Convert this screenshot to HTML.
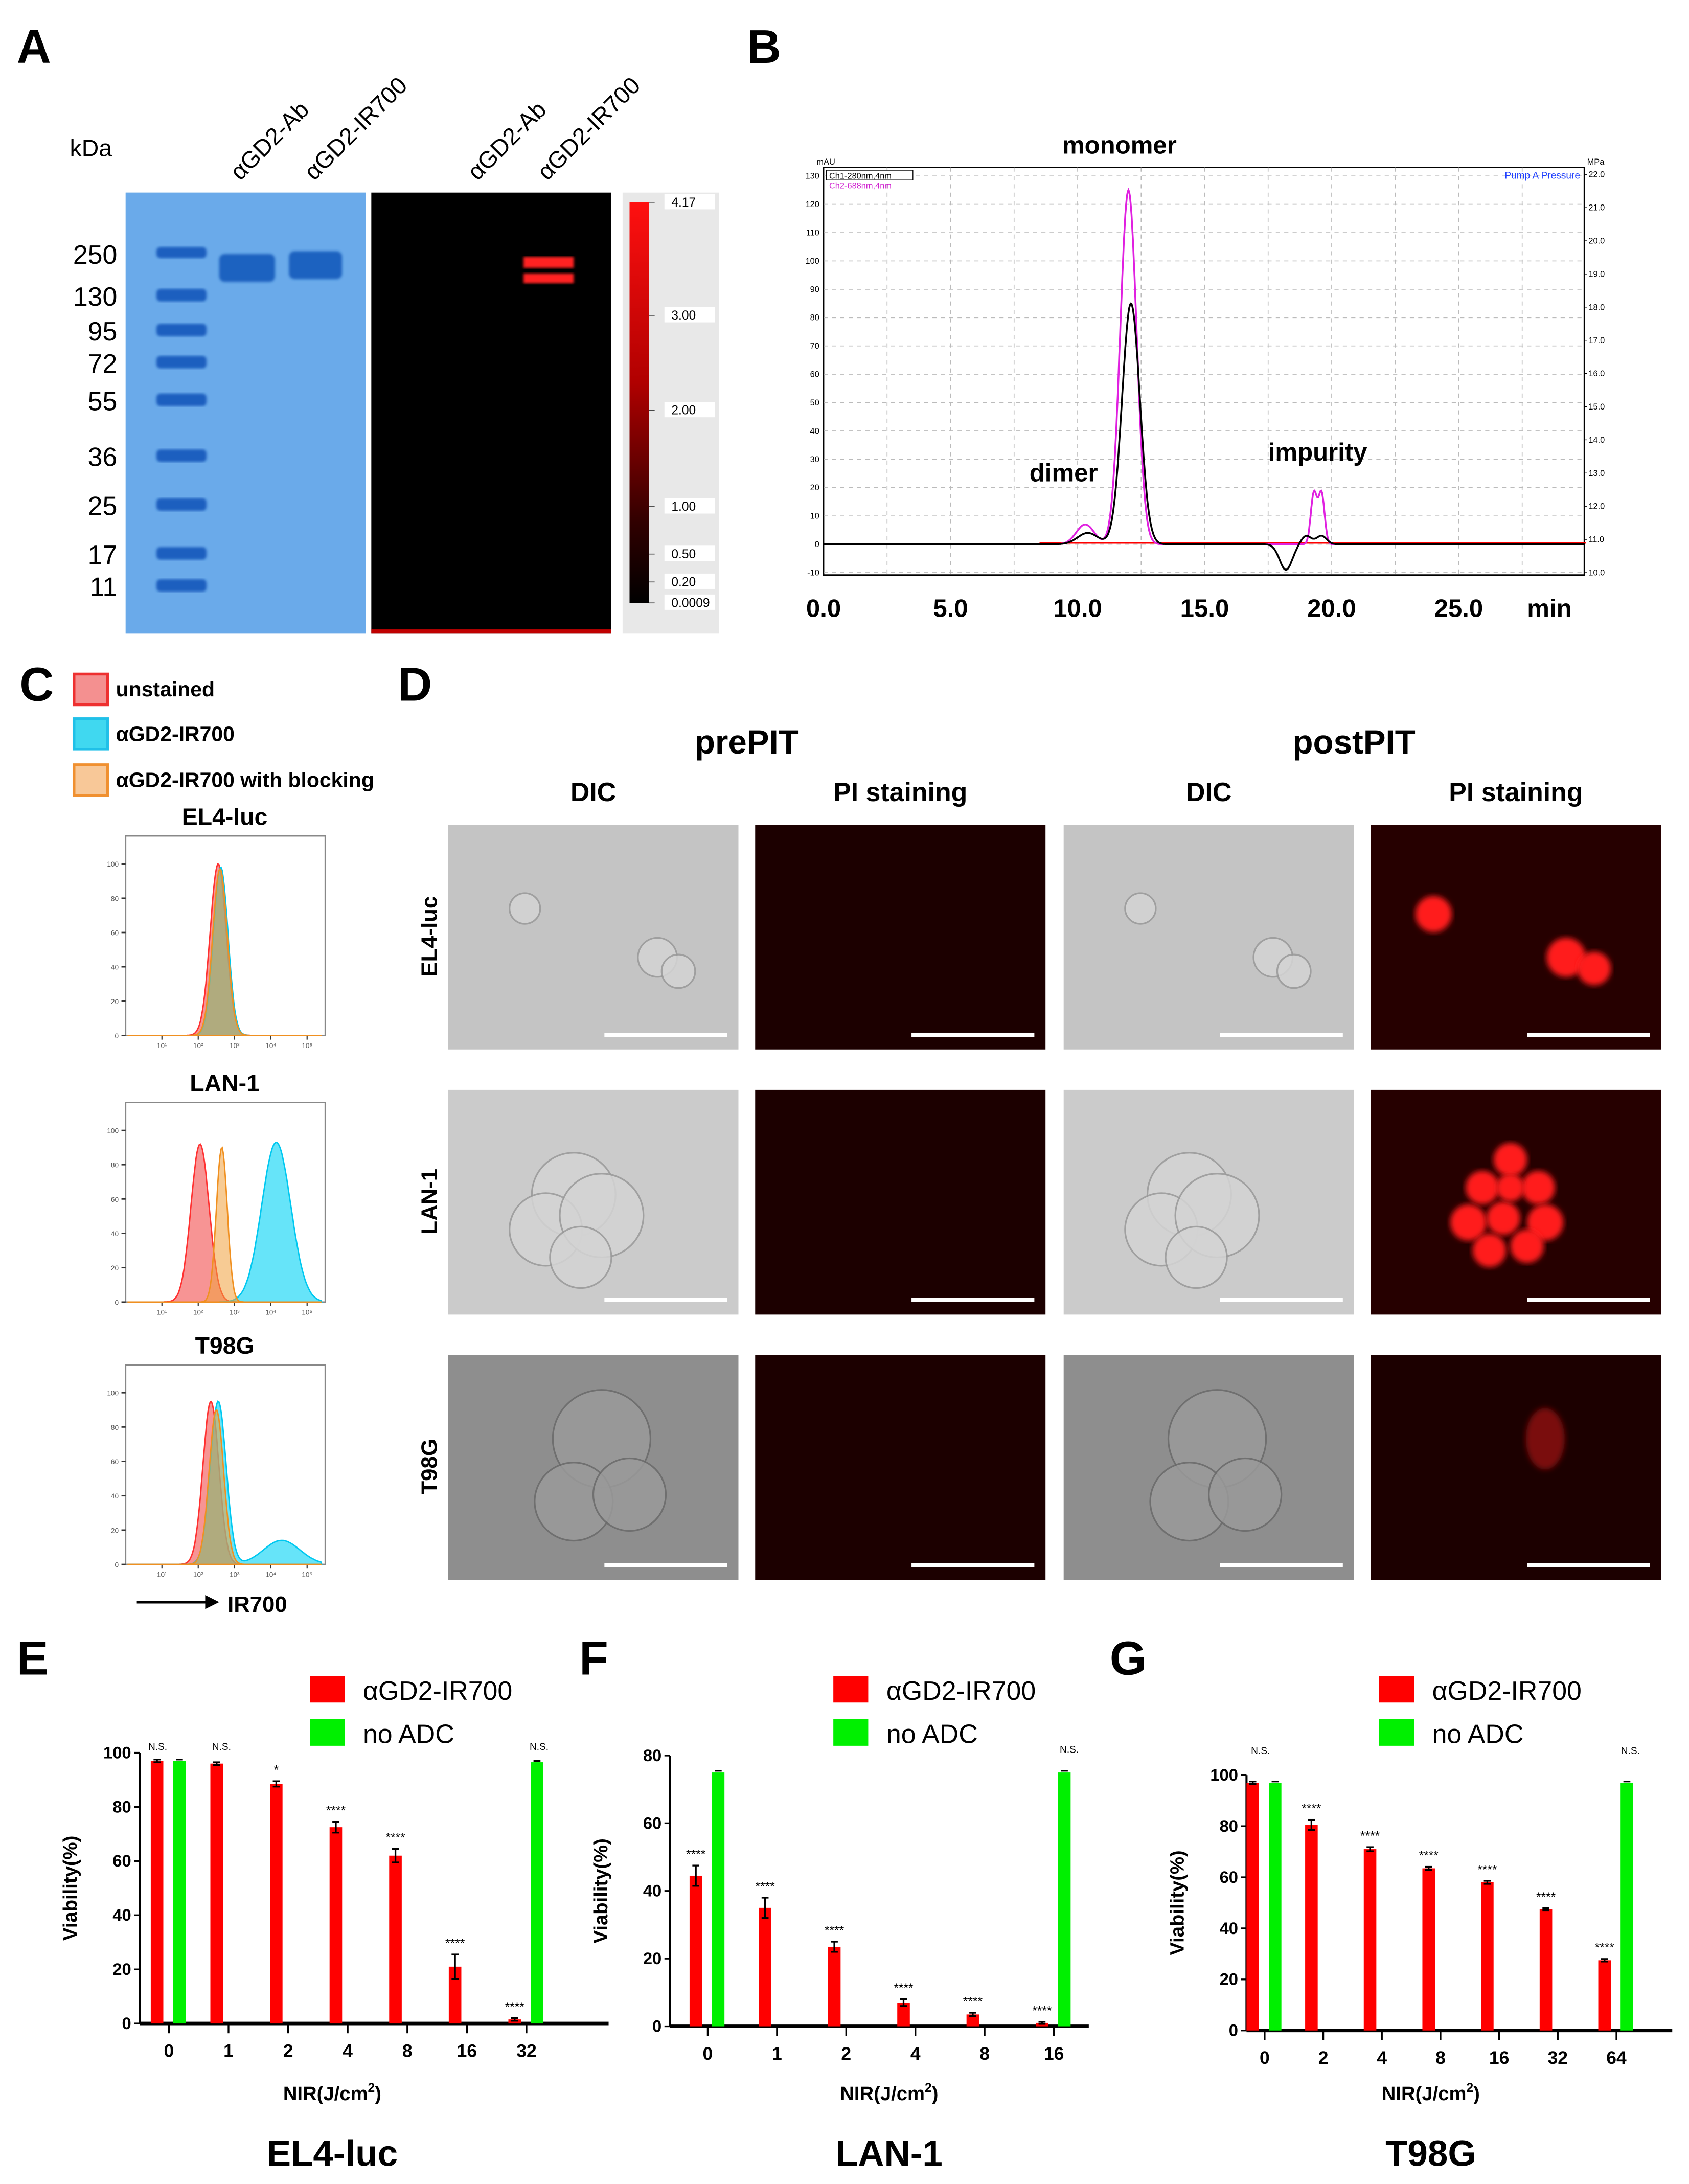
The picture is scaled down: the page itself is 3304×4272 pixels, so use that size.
<!DOCTYPE html>
<html><head><meta charset="utf-8"><style>
html,body{margin:0;padding:0;background:#fff}
svg{display:block}
text{font-family:"Liberation Sans",sans-serif}
</style></head><body>
<svg id="fig" width="3304" height="4272" viewBox="0 0 1210 1565" preserveAspectRatio="none" xmlns="http://www.w3.org/2000/svg">
<defs>
<linearGradient id="cbar" x1="0" y1="0" x2="0" y2="1"><stop offset="0" stop-color="#ff1010"/><stop offset="0.45" stop-color="#b00000"/><stop offset="0.8" stop-color="#300000"/><stop offset="1" stop-color="#000"/></linearGradient>
<filter id="blur2"><feGaussianBlur stdDeviation="2"/></filter>
<filter id="blur1"><feGaussianBlur stdDeviation="1"/></filter>
<radialGradient id="cell" cx="0.4" cy="0.4" r="0.6"><stop offset="0" stop-color="#ddd"/><stop offset="0.8" stop-color="#aaa"/><stop offset="1" stop-color="#777"/></radialGradient>
</defs>
<g id="root"></g>
</svg>
<script>
// ---------- chart data ----------
const eCats=["0","1","2","4","8","16","32"];
const eRed=[97,96,88.5,72.5,62,21,1.5];
const eRedErr=[0.5,0.5,1,2,2.5,4.5,0.5];
const eGreen=[97,null,null,null,null,null,96.5];
const eSig=["N.S.","N.S.","*","****","****","****","****"];
const eYTicks=[0,20,40,60,80,100];
const fCats=["0","1","2","4","8","16"];
const fRed=[44.5,35,23.5,7,3.5,1];
const fRedErr=[3,3,1.5,1,0.5,0.3];
const fGreen=[75,null,null,null,null,75];
const fSig=["****","****","****","****","****","****"];
const fYTicks=[0,20,40,60,80];
const gCats=["0","2","4","8","16","32","64"];
const gRed=[97,80.5,71,63.5,58,47.5,27.5];
const gRedErr=[0.5,2,0.8,0.6,0.6,0.4,0.5];
const gGreen=[97,null,null,null,null,null,97];
const gSig=["N.S.","****","****","****","****","****","****"];
const gYTicks=[0,20,40,60,80,100];
// chromatogram peaks [time(min), height(mAU), width]
const chromMagenta=[[10.3,7,0.35],[12.0,125,0.32],[19.3,18,0.12],[19.6,18,0.12]];
const chromBlack=[[10.4,4,0.4],[12.1,85,0.35],[18.2,-9,0.25],[19.0,3,0.2],[19.6,3,0.2]];
const chromXTicks=[0,5,10,15,20,25];
// flow histograms: [log10 center, width, height]
const flowEl4=[[[2.55,0.22,100]],[[2.62,0.2,98]],[[2.6,0.2,97]]];
const flowLan=[[[2.05,0.25,92]],[[4.15,0.4,93]],[[2.65,0.15,90]]];
const flowT98=[[[2.35,0.22,95]],[[2.55,0.22,95],[4.3,0.5,14]],[[2.5,0.2,90]]];
const ladder=[250,130,95,72,55,36,25,17,11];
const ladderY=[182,212,237,260,287,327,362,397,420];
const cbarLabels=["4.17","3.00","2.00","1.00","0.50","0.20","0.0009"];
const cbarY=[145,226,294,363,397,417,432];

const NS="http://www.w3.org/2000/svg";
const root=document.getElementById('root');
function el(tag,attrs,parent,txt){const e=document.createElementNS(NS,tag);for(const k in attrs)e.setAttribute(k,attrs[k]);if(txt!==undefined)e.textContent=txt;(parent||root).appendChild(e);return e;}
function T(x,y,s,size,opts,parent){opts=opts||{};const a={x:x,y:y,'font-size':size,'font-weight':opts.w||'normal','text-anchor':opts.a||'start',fill:opts.f||'#000'};if(opts.t)a.transform=opts.t;return el('text',a,parent,s);}

// panel letters
[["A",12,45],["B",535,45],["C",14,502],["D",285,502],["E",12,1200],["F",415,1200],["G",795,1200]].forEach(p=>{
 const t=T(p[1],p[2],p[0],34,{w:'bold'});
 
 
});

// ---------- Panel A ----------
const gA=el('g',{});

T(50,112,"kDa",17,{},gA);
[["αGD2-Ab",172,130],["αGD2-IR700",225,130],["αGD2-Ab",342,130],["αGD2-IR700",392,130]].forEach(c=>{
 T(c[1],c[2],c[0],17,{t:`rotate(-45 ${c[1]} ${c[2]})`},gA);
});
const gel=el('rect',{x:90,y:138,width:172,height:316,fill:'#5aa0e6'},gA);

el('rect',{x:90,y:138,width:172,height:316,fill:'#7ab4ee',opacity:0.5},gA);
ladder.forEach((m,i)=>{
 const y=ladderY[i];
 T(84,y+7,String(m),19,{a:'end'},gA);
 el('rect',{x:112,y:y-5,width:36,height:(i<1?8:9),rx:3,fill:'#1d5fbf',filter:'url(#blur1)'},gA);
});
el('rect',{x:157,y:182,width:40,height:20,rx:4,fill:'#1f62c0',filter:'url(#blur1)'},gA);
el('rect',{x:207,y:180,width:38,height:20,rx:4,fill:'#1f62c0',filter:'url(#blur1)'},gA);
const fl=el('rect',{x:266,y:138,width:172,height:316,fill:'#000'},gA);

el('rect',{x:375,y:184,width:36,height:8,fill:'#ff2020',filter:'url(#blur1)'},gA);
el('rect',{x:375,y:196,width:36,height:7,fill:'#ff2020',filter:'url(#blur1)'},gA);
el('rect',{x:266,y:451,width:172,height:3,fill:'#c00000'},gA);
el('rect',{x:446,y:138,width:69,height:316,fill:'#e8e8e8'},gA);
const cb=el('rect',{x:451,y:145,width:14,height:287,fill:'url(#cbar)'},gA);

cbarLabels.forEach((l,i)=>{el('line',{x1:465,x2:469,y1:cbarY[i],y2:cbarY[i],stroke:'#444','stroke-width':0.6},gA);el('rect',{x:476,y:cbarY[i]-6,width:36,height:11,fill:'#fff'},gA);T(481,cbarY[i]+3,l,9,{},gA);});

// ---------- Panel B chromatogram ----------
const gB=el('g',{});

const bx0=590,bx1=1135,by0=120,by1=412;
const cx=t=>590+t*18.2, cy=v=>390-v*2.03;
el('rect',{x:bx0,y:by0,width:bx1-bx0,height:by1-by0,fill:'#fff',stroke:'#000','stroke-width':1},gB);
for(let t=2.5;t<30;t+=2.5){el('line',{x1:cx(t),x2:cx(t),y1:by0,y2:by1,stroke:'#bbb','stroke-width':0.6,'stroke-dasharray':'3,3'},gB);}
for(let v=-10;v<=130;v+=10){const y=cy(v);el('line',{x1:bx0,x2:bx1,y1:y,y2:y,stroke:'#bbb','stroke-width':0.6,'stroke-dasharray':'3,3'},gB);T(bx0-3,y+2,String(v),6,{a:'end'},gB);}
for(let v=10;v<=22;v+=1){const y=cy(-10)-(v-10)*(cy(-10)-by0-5)/12;T(bx1+3,y+2,v.toFixed(1),6,{},gB);el('line',{x1:bx1,x2:bx1+2,y1:y,y2:y,stroke:'#000','stroke-width':0.5},gB);}
T(bx0-5,by0-2,"mAU",6,{},gB);T(bx1+2,by0-2,"MPa",6,{},gB);
T(bx1-3,by0+8,"Pump A Pressure",7,{a:'end',f:'#2040ff'},gB);
el('rect',{x:bx0+2,y:by0+2,width:62,height:7,fill:'#fff',stroke:'#000','stroke-width':0.5},gB);
T(bx0+4,by0+8,"Ch1-280nm,4nm",6,{},gB);T(bx0+4,by0+15,"Ch2-688nm,4nm",6,{f:'#d020d0'},gB);
function chromPath(peaks){let d='';for(let t=0;t<=30;t+=0.03){let v=0;peaks.forEach(p=>{v+=p[1]*Math.exp(-Math.pow((t-p[0])/p[2],2)/2);});d+=(d?'L':'M')+cx(t).toFixed(1)+','+cy(v).toFixed(1);}return d;}
el('line',{x1:cx(8.5),x2:cx(30),y1:cy(0.5),y2:cy(0.5),stroke:'#ff0000','stroke-width':1.2},gB);
const pm=el('path',{d:chromPath(chromMagenta),fill:'none',stroke:'#e020e0','stroke-width':1.3},gB);

const pb=el('path',{d:chromPath(chromBlack),fill:'none',stroke:'#000','stroke-width':1.3},gB);

chromXTicks.forEach(t=>T(cx(t),442,t.toFixed(1),18,{w:'bold',a:'middle'},gB));
T(1110,442,"min",18,{w:'bold',a:'middle'},gB);
T(802,110,"monomer",18,{w:'bold',a:'middle'},gB);
T(762,345,"dimer",18,{w:'bold',a:'middle'},gB);
T(944,330,"impurity",18,{w:'bold',a:'middle'},gB);

// ---------- Panel C flow ----------
const gC=el('g',{});

const leg=[["unstained",'#f49090','#ee3030',483],["αGD2-IR700",'#40d8f0','#20c0e8',515],["αGD2-IR700 with blocking",'#f8c898','#f09030',548]];
leg.forEach(l=>{const r=el('rect',{x:53,y:l[3],width:24,height:22,fill:l[1],stroke:l[2],'stroke-width':2},gC);T(83,l[3]+16,l[0],15,{w:'bold'},gC);});
const flowCols=[['rgba(240,60,60,0.55)','#ff3030'],['rgba(0,210,245,0.6)','#00c8f0'],['rgba(240,160,60,0.55)','#f09020']];
function flowPlot(name,top,sets){
 const x0=90,x1=233,y0=top,y1=top+143;
 T(161,top-8,name,17,{w:'bold',a:'middle'},gC);
 el('rect',{x:x0,y:y0,width:x1-x0,height:y1-y0,fill:'#fff',stroke:'#888','stroke-width':1},gC);
 const fx=l=>x0+(l-0)*(x1-x0)/5.5, fy=v=>y1-v*(y1-y0-20)/100;
 [0,20,40,60,80,100].forEach(v=>{el('line',{x1:x0-3,x2:x0,y1:fy(v),y2:fy(v),stroke:'#333','stroke-width':1},gC);T(x0-5,fy(v)+2,String(v),5,{a:'end',f:'#555'},gC);});
 [1,2,3,4,5].forEach(e=>{el('line',{x1:fx(e),x2:fx(e),y1:y1,y2:y1+3,stroke:'#333','stroke-width':0.8},gC);T(fx(e),y1+9,"10"+["¹","²","³","⁴","⁵"][e-1],5,{a:'middle',f:'#555'},gC);});
 sets.forEach((peaks,k)=>{let d='M'+fx(0.05)+','+y1;for(let l=0.05;l<=5.4;l+=0.03){let v=0;peaks.forEach(p=>{v+=p[2]*Math.exp(-Math.pow((l-p[0])/p[1],2)/2);});d+='L'+fx(l).toFixed(1)+','+fy(v).toFixed(1);}d+='L'+fx(5.4)+','+y1+'Z';
  const p=el('path',{d:d,fill:flowCols[k][0],stroke:flowCols[k][1],'stroke-width':1},gC);});
}
flowPlot("EL4-luc",599,flowEl4);
flowPlot("LAN-1",790,flowLan);
flowPlot("T98G",978,flowT98);
el('line',{x1:98,x2:150,y1:1148,y2:1148,stroke:'#000','stroke-width':2},gC);
el('path',{d:'M157,1148 L147,1143 L147,1153Z',fill:'#000'},gC);
T(163,1155,"IR700",16,{w:'bold'},gC);

// ---------- Panel D microscopy ----------
const gD=el('g',{});

T(535,540,"prePIT",24,{w:'bold',a:'middle'},gD);
T(970,540,"postPIT",24,{w:'bold',a:'middle'},gD);
const colX=[321,541,762,982];
["DIC","PI staining","DIC","PI staining"].forEach((h,i)=>T(colX[i]+104,574,h,19,{w:'bold',a:'middle'},gD));
const rowY=[591,781,971];
["EL4-luc","LAN-1","T98G"].forEach((r,i)=>T(313,rowY[i]+80,r,16,{w:'bold',a:'middle',t:`rotate(-90 313 ${rowY[i]+80})`},gD));
const cells=[[[55,60,11],[150,95,14],[165,105,12]],[[90,75,30],[70,100,26],[110,90,30],[95,120,22]],[[110,60,35],[90,105,28],[130,100,26]]];
const dicBg=['#c4c4c4','#cbcbcb','#8e8e8e'];
rowY.forEach((y,r)=>{
 colX.forEach((x,c)=>{
  const isPI=(c%2===1);
  const bg=isPI?(c===3&&r<2?'#260000':'#1c0000'):dicBg[r];
  const im=el('rect',{x:x,y:y,width:208,height:161,fill:bg},gD);
  
  if(!isPI){cells[r].forEach(ce=>el('circle',{cx:x+ce[0],cy:y+ce[1],r:ce[2],fill:r===2?'#9a9a9a':'#d4d4d4',stroke:r===2?'#6a6a6a':'#999','stroke-width':1.2,opacity:0.85},gD));}
  else if(c===3){
   const fill=r===2?'#a01010':'#ff1a1a';
   if(r===0){[[45,64,13],[140,95,14],[160,103,12]].forEach(ce=>el('circle',{cx:x+ce[0],cy:y+ce[1],r:ce[2],fill:fill,filter:'url(#blur2)'},gD));}
   if(r===1){[[100,50,12],[80,70,12],[120,70,12],[70,95,13],[95,92,12],[125,95,13],[85,115,12],[112,112,12],[100,70,10]].forEach(ce=>el('circle',{cx:x+ce[0],cy:y+ce[1],r:ce[2],fill:fill,filter:'url(#blur2)'},gD));}
   if(r===2){el('ellipse',{cx:x+125,cy:y+60,rx:14,ry:22,fill:'#7a0808',filter:'url(#blur2)'},gD);}
  }
  el('rect',{x:x+112,y:y+149,width:88,height:3,fill:'#fff'},gD);
 });
});

// ---------- Bar charts ----------
function barChart(opt){
 const g=el('g',{});
 
 const yv=v=>opt.y0-v*(opt.y0-opt.yTop)/opt.yMax;
 const xc=i=>opt.xFirst+i*opt.xStep;
 // legend
 const lr=el('rect',{x:opt.legX,y:1201,width:25,height:19,fill:'#ff0000'},g);
 T(opt.legX+38,1218,"αGD2-IR700",19,{},g);
 const lg=el('rect',{x:opt.legX,y:1232,width:25,height:19,fill:'#00f000'},g);
 T(opt.legX+38,1249,"no ADC",19,{},g);
 // axes
 el('line',{x1:opt.ax,x2:opt.ax,y1:yv(opt.yMax),y2:opt.y0,stroke:'#000','stroke-width':1.5},g);
 el('line',{x1:opt.ax,x2:opt.axEnd,y1:opt.y0,y2:opt.y0,stroke:'#000','stroke-width':2.5},g);
 opt.yTicks.forEach(v=>{el('line',{x1:opt.ax-4,x2:opt.ax,y1:yv(v),y2:yv(v),stroke:'#000','stroke-width':1.2},g);T(opt.ax-6,yv(v)+4,String(v),12,{w:'bold',a:'end'},g);});
 opt.cats.forEach((c,i)=>{el('line',{x1:xc(i),x2:xc(i),y1:opt.y0,y2:opt.y0+7,stroke:'#000','stroke-width':1.2},g);T(xc(i),opt.y0+24,c,13,{w:'bold',a:'middle'},g);});
 opt.red.forEach((v,i)=>{
  const x=xc(i)-13,w=9;
  const b=el('rect',{x:x,y:yv(v),width:w,height:opt.y0-yv(v),fill:'#ff0000'},g);
  
  const e=opt.err[i];
  el('line',{x1:x+w/2,x2:x+w/2,y1:yv(v+e),y2:yv(v-e),stroke:'#000','stroke-width':1.2},g);
  el('line',{x1:x+w/2-2.5,x2:x+w/2+2.5,y1:yv(v+e),y2:yv(v+e),stroke:'#000','stroke-width':1.2},g);
  el('line',{x1:x+w/2-2.5,x2:x+w/2+2.5,y1:yv(v-e),y2:yv(v-e),stroke:'#000','stroke-width':1.2},g);
  const s=opt.sig[i];
  if(s!=="N.S.") T(x+w/2,yv(v+e)-5,s,9,{a:'middle'},g);
 });
 opt.green.forEach((v,i)=>{
  if(v===null)return;
  const x=xc(i)+3,w=9;
  const b=el('rect',{x:x,y:yv(v),width:w,height:opt.y0-yv(v),fill:'#00f000'},g);
  
  el('line',{x1:x+w/2-2.5,x2:x+w/2+2.5,y1:yv(v+0.5),y2:yv(v+0.5),stroke:'#000','stroke-width':1.2},g);
 });
 opt.nsAt.forEach(i=>T(xc(i)-(opt.nsShift[i]||0),opt.nsY,"N.S.",7,{a:'middle'},g));
 T(opt.ax-45,(opt.y0+yv(opt.yMax))/2,"Viability(%)",14,{w:'bold',a:'middle',t:`rotate(-90 ${opt.ax-45} ${(opt.y0+yv(opt.yMax))/2})`},g);
 const xl=T(opt.titleX,1505,"NIR(J/cm",14,{w:'bold',a:'middle'},g);
 const ts=el('tspan',{dy:-6,'font-size':9},xl,"2");el('tspan',{dy:6},xl,")");
 T(opt.titleX,1552,opt.title,26,{w:'bold',a:'middle'},g);
}
barChart({name:'chart-el4-luc',cats:eCats,red:eRed,err:eRedErr,green:eGreen,sig:eSig,yTicks:eYTicks,yMax:100,y0:1450,yTop:1256,ax:100,axEnd:436,xFirst:121,xStep:42.7,legX:222,titleX:238,title:"EL4-luc",nsAt:[0,1,6],nsShift:{0:8,1:5,6:-9},nsY:1254});
barChart({name:'chart-lan-1',cats:fCats,red:fRed,err:fRedErr,green:fGreen,sig:fSig,yTicks:fYTicks,yMax:80,y0:1452,yTop:1258,ax:480,axEnd:780,xFirst:507,xStep:49.6,legX:597,titleX:637,title:"LAN-1",nsAt:[5],nsShift:{5:-11},nsY:1256});
barChart({name:'chart-t98g',cats:gCats,red:gRed,err:gRedErr,green:gGreen,sig:gSig,yTicks:gYTicks,yMax:100,y0:1455,yTop:1272,ax:893,axEnd:1198,xFirst:906,xStep:42,legX:988,titleX:1025,title:"T98G",nsAt:[0,6],nsShift:{0:3,6:-10},nsY:1257});
</script>
</body></html>
